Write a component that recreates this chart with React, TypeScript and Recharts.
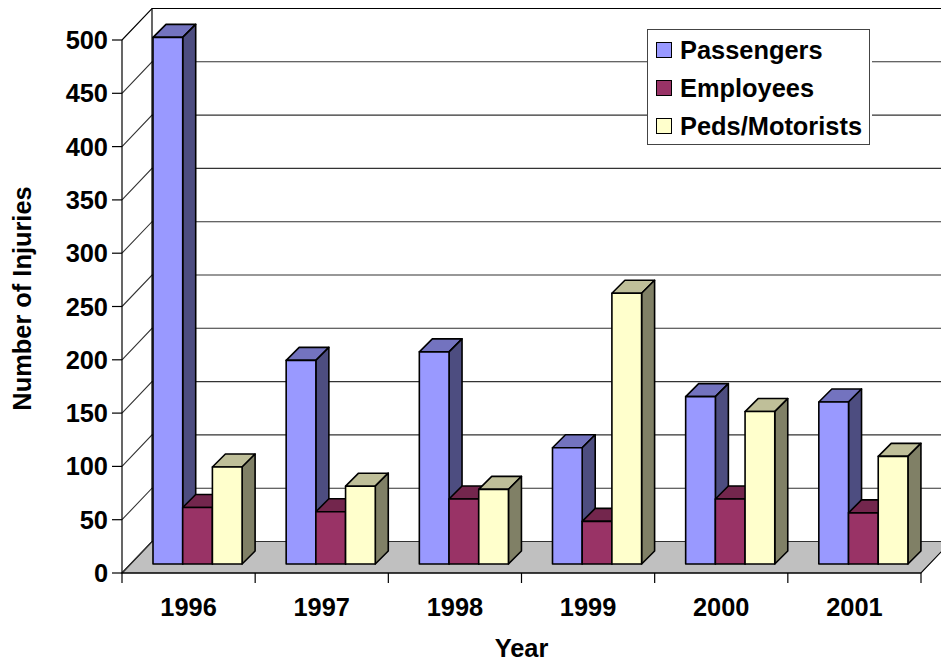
import React from "react";
import { BarChart, Bar, XAxis, YAxis, CartesianGrid, Legend } from "recharts";

const years = ["1996", "1997", "1998", "1999", "2000", "2001"];
const passengers = [494, 191, 199, 109, 157, 152];
const employees = [53, 49, 61, 40, 61, 48];
const pedsMotorists = [91, 73, 70, 254, 143, 101];
const yTicks = [0, 50, 100, 150, 200, 250, 300, 350, 400, 450, 500];

const chartData = years.map((year, i) => ({
  year,
  passengers: passengers[i],
  employees: employees[i],
  peds: pedsMotorists[i],
}));

const FONT = '"Liberation Sans", Arial, sans-serif';
const FONT_SIZE = 25.4;
const WALL_DX = 30;
const WALL_DY = 31.5;
const BAR_SHIFT = 9;
const BAR_DEPTH = 13;

// fake 3D bar: front, top and side faces
const make3dBar = (topColor: string, sideColor: string) => (props: any) => {
  const { x, y, width, height, fill } = props;
  const l = x + BAR_SHIFT;
  const r = l + width;
  const t = y - BAR_SHIFT;
  const b = t + height;
  const d = BAR_DEPTH;
  return (
    <g stroke="#000" strokeWidth={1.6} strokeLinejoin="round">
      <polygon points={`${l},${t} ${l + d},${t - d} ${r + d},${t - d} ${r},${t}`} fill={topColor} />
      <polygon points={`${r},${t} ${r + d},${t - d} ${r + d},${b - d} ${r},${b}`} fill={sideColor} />
      <rect x={l} y={t} width={width} height={height} fill={fill} />
    </g>
  );
};

// grid lines run along the left wall then the back wall; the zero line also draws the floor
const WallLine = (props: any) => {
  const { x1, x2, y1, index } = props;
  const bx = x1 + WALL_DX;
  const by = y1 - WALL_DY;
  return (
    <g>
      {index === 0 && (
        <polygon
          points={`${x1},${y1} ${bx},${by} ${x2 + WALL_DX},${by} ${x2},${y1}`}
          fill="#c0c0c0"
          stroke="#000"
          strokeWidth={1.2}
        />
      )}
      {index === yTicks.length - 1 && (
        <line x1={bx} y1={by} x2={bx} y2={by + 533} stroke="#000" strokeWidth={1.2} />
      )}
      <polyline
        points={`${x1},${y1} ${bx},${by} ${x2 + WALL_DX},${by}`}
        fill="none"
        stroke={index === yTicks.length - 1 ? "#000" : "#333"}
        strokeWidth={1.1}
      />
    </g>
  );
};

const YearTick = (props: any) => {
  const { x, y, payload, index } = props;
  const half = payload.offset ?? 66.6;
  return (
    <g>
      <line x1={x - half} y1={y} x2={x - half} y2={y + 10} stroke="#000" strokeWidth={1.2} />
      {index === years.length - 1 && (
        <line x1={x + half} y1={y} x2={x + half} y2={y + 10} stroke="#000" strokeWidth={1.2} />
      )}
      <text x={x} y={y + 43} textAnchor="middle" fontFamily={FONT} fontWeight="bold" fontSize={FONT_SIZE} fill="#000">
        {payload.value}
      </text>
    </g>
  );
};

const LegendBox = ({ payload }: any) => (
  <div
    style={{
      boxSizing: "border-box",
      width: 223,
      height: 116,
      background: "#fff",
      border: "1px solid #444",
      boxShadow: "2px 0 0 #fff",
      padding: "1px 0 0 8px",
      fontFamily: FONT,
      fontWeight: "bold",
      fontSize: FONT_SIZE,
      color: "#000",
    }}
  >
    {(payload || []).map((item: any) => (
      <div key={item.value} style={{ display: "flex", alignItems: "center", height: 38 }}>
        <span
          style={{
            boxSizing: "border-box",
            width: 16,
            height: 16,
            background: item.color,
            border: "1px solid #000",
            marginRight: 8,
          }}
        />
        {item.value}
      </div>
    ))}
  </div>
);

export default function App() {
  return (
    <div style={{ position: "absolute", left: 0, top: 0, width: 941, height: 662, background: "#fff" }}>
      <BarChart
        width={941}
        height={662}
        data={chartData}
        margin={{ top: 40, right: 20, bottom: 0, left: 0 }}
        barSize={29.7}
        barGap={0}
      >
        <CartesianGrid vertical={false} horizontal={WallLine as any} />
        <XAxis
          dataKey="year"
          height={89}
          axisLine={{ stroke: "#000", strokeWidth: 1.2 }}
          tickLine={false}
          tickSize={0}
          tickMargin={0}
          tick={YearTick as any}
          interval={0}
          label={{
            value: "Year",
            position: "insideBottom",
            offset: 5,
            style: { fontFamily: FONT, fontWeight: "bold", fontSize: FONT_SIZE, fill: "#000" },
          }}
        />
        <YAxis
          width={122}
          domain={[0, 500]}
          ticks={yTicks}
          interval={0}
          axisLine={{ stroke: "#000", strokeWidth: 1.2 }}
          tickLine={{ stroke: "#000", strokeWidth: 1.2 }}
          tickSize={10}
          tickMargin={4}
          tick={{ fontFamily: FONT, fontWeight: "bold", fontSize: FONT_SIZE, fill: "#000" }}
          label={{
            value: "Number of Injuries",
            angle: -90,
            position: "insideLeft",
            offset: 22,
            dy: -8,
            style: { fontFamily: FONT, fontWeight: "bold", fontSize: FONT_SIZE, fill: "#000", textAnchor: "middle" },
          }}
        />
        <Legend
          layout="horizontal"
          align="center"
          verticalAlign="middle"
          itemSorter={null}
          wrapperStyle={{ position: "absolute", left: 647, top: 29, width: 223, height: 116 }}
          content={LegendBox as any}
        />
        <Bar dataKey="passengers" name="Passengers" fill="#9999ff" isAnimationActive={false} shape={make3dBar("#7373bf", "#4d4d80")} />
        <Bar dataKey="employees" name="Employees" fill="#993366" isAnimationActive={false} shape={make3dBar("#73264d", "#4d1a33")} />
        <Bar dataKey="peds" name="Peds/Motorists" fill="#ffffcc" isAnimationActive={false} shape={make3dBar("#bfbf99", "#808066")} />
      </BarChart>
    </div>
  );
}
